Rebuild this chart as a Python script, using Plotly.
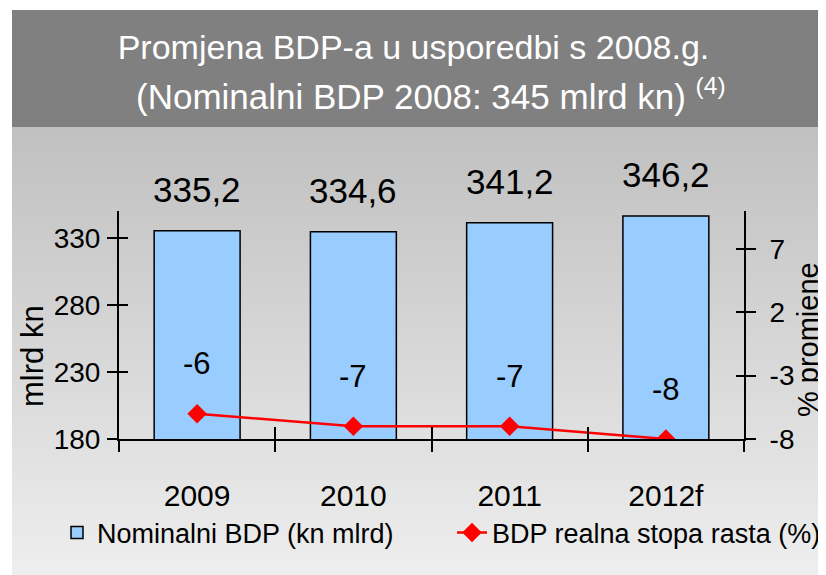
import base64
import plotly.graph_objects as go

categories = ["2009", "2010", "2011", "2012f"]
nominal_gdp = [335.2, 334.6, 341.2, 346.2]
real_growth = [-6, -7, -7, -8]
left_ticks = [180, 230, 280, 330]
right_ticks = [-8, -3, 2, 7]

FONT = "Liberation Sans, Arial, sans-serif"

fig = go.Figure()

fig.add_trace(go.Bar(
    x=categories, y=nominal_gdp, name="Nominalni BDP (kn mlrd)",
    marker=dict(color="#99ccff", line=dict(color="black", width=1.5)),
    width=0.55, xaxis="x", yaxis="y", legend="legend",
))
fig.add_trace(go.Scatter(
    x=categories, y=real_growth, name="BDP realna stopa rasta (%)",
    mode="lines+markers", line=dict(color="#ff0000", width=2.5),
    marker=dict(symbol="diamond", size=15, color="#ff0000"),
    xaxis="x", yaxis="y2", legend="legend2",
))
# helper traces so the overlay (cross-tick) axes get drawn
fig.add_trace(go.Scatter(x=categories, y=[None] * len(categories), xaxis="x3", yaxis="y3",
                         showlegend=False, hoverinfo="skip"))
fig.add_trace(go.Scatter(x=categories, y=[None] * len(categories), xaxis="x3", yaxis="y4",
                         showlegend=False, hoverinfo="skip"))

annotations = []
for i, v in enumerate(nominal_gdp):
    annotations.append(dict(x=i, y=v, xref="x", yref="y", text=f"{v:.1f}".replace(".", ","),
                            showarrow=False, yanchor="bottom", yshift=20,
                            font=dict(family=FONT, size=35, color="black")))
for i, v in enumerate(real_growth):
    annotations.append(dict(x=i, y=v, xref="x", yref="y2", text=f"{v:.0f}",
                            showarrow=False, yanchor="middle", yshift=50,
                            font=dict(family=FONT, size=31, color="black")))
annotations.append(dict(x=-0.1392, y=0.364, xref="paper", yref="paper", text="mlrd kn",
                        textangle=-90, showarrow=False, xanchor="center", yanchor="middle",
                        font=dict(family=FONT, size=31, color="black")))
annotations.append(dict(x=1.1024, y=0.434, xref="paper", yref="paper", text="% promjene",
                        textangle=-90, showarrow=False, xanchor="center", yanchor="middle",
                        font=dict(family=FONT, size=29, color="black")))
annotations.append(dict(x=0.4992, y=1.513, xref="paper", yref="paper",
                        text="(Nominalni BDP 2008: 345 mlrd kn) <sup>(4)</sup>",
                        showarrow=False, xanchor="center", yanchor="middle",
                        font=dict(family=FONT, size=35, color="white")))

svg = ('<svg xmlns="http://www.w3.org/2000/svg" width="100" height="100" preserveAspectRatio="none">'
       '<defs><linearGradient id="g" x1="0" y1="0" x2="0" y2="1">'
       '<stop offset="0" stop-color="#c0c0c0"/><stop offset="1" stop-color="#eeeeee"/>'
       '</linearGradient></defs><rect width="100" height="100" fill="url(#g)"/></svg>')
src = "data:image/svg+xml;base64," + base64.b64encode(svg.encode()).decode()

axis_common = dict(showgrid=False, zeroline=False, linecolor="black", linewidth=2,
                   tickcolor="black", tickwidth=2)
legend_common = dict(orientation="h", xanchor="left", y=0.0741, yanchor="middle",
                     xref="paper", yref="container", bgcolor="rgba(0,0,0,0)",
                     font=dict(family=FONT, size=27, color="black"), itemwidth=30)

fig.update_layout(
    width=818, height=567,
    margin=dict(l=111, r=82, t=203, b=136, autoexpand=False),
    paper_bgcolor="white", plot_bgcolor="rgba(0,0,0,0)",
    title=dict(text="Promjena BDP-a u usporedbi s 2008.g.",
               x=0.4957, xanchor="center", y=0.9312, yanchor="middle", xref="container", yref="container",
               font=dict(family=FONT, size=34, color="white")),
    xaxis=dict(type="category", categoryorder="array", categoryarray=categories, range=[-0.5, 3.5],
               tickson="boundaries", ticks="outside", ticklen=11, showline=True,
               tickfont=dict(family=FONT, size=30, color="black"), ticklabelstandoff=29,
               automargin=False, **axis_common),
    xaxis3=dict(type="category", categoryorder="array", categoryarray=categories, range=[-0.5, 3.5],
                overlaying="x", anchor="y", tickson="boundaries", ticks="inside", ticklen=12,
                showticklabels=False, showline=False, showgrid=False, zeroline=False,
                tickcolor="black", tickwidth=2),
    yaxis=dict(range=[180, 350], tickvals=left_ticks, ticks="outside", ticklen=10, showline=True,
               tickfont=dict(family=FONT, size=28, color="black"), ticklabelstandoff=1,
               automargin=False, **axis_common),
    yaxis3=dict(range=[180, 350], tickvals=left_ticks, overlaying="y", anchor="x3", side="left",
                ticks="inside", ticklen=9, showticklabels=False, showline=False, showgrid=False,
                zeroline=False, tickcolor="black", tickwidth=2),
    yaxis2=dict(range=[-8, 10], tickvals=right_ticks, ticktext=[str(t) for t in right_ticks],
                overlaying="y", anchor="x", side="right",
                ticks="outside", ticklen=10, showline=True,
                tickfont=dict(family=FONT, size=28, color="black"), ticklabelstandoff=8,
                automargin=False, **axis_common),
    yaxis4=dict(range=[-8, 10], tickvals=right_ticks, overlaying="y", anchor="x3", side="right",
                ticks="inside", ticklen=8, showticklabels=False, showline=False, showgrid=False,
                zeroline=False, tickcolor="black", tickwidth=2),
    legend=dict(x=-0.0992, **legend_common),
    legend2=dict(x=0.5328, **legend_common),
    showlegend=True,
    annotations=annotations,
    images=[dict(source=src, xref="paper", yref="paper", x=-0.1712, y=1.3684,
                 sizex=1.3024, sizey=1.9649, xanchor="left", yanchor="top",
                 sizing="stretch", layer="below")],
    shapes=[dict(type="rect", xref="paper", yref="paper", x0=-0.1712, x1=1.1312,
                 y0=1.3684, y1=1.8816, fillcolor="#808080", line=dict(width=0), layer="below")],
)

fig.write_html("out.html")
